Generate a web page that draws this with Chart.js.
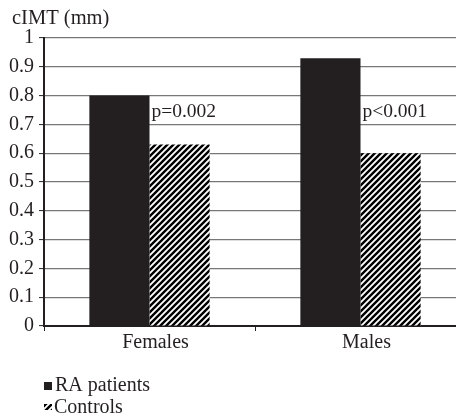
<!DOCTYPE html>
<html><head><meta charset="utf-8">
<script src="https://cdn.jsdelivr.net/npm/chart.js@4.4.0/dist/chart.umd.min.js"></script>
<style>
html,body{margin:0;padding:0;background:#fff;overflow:hidden;}
#wrap{position:relative;width:466px;height:419px;}
</style></head><body>
<div id="wrap"><canvas id="c"></canvas></div>
<script>
const categories = ["Females", "Males"];
const raPatients = [0.80, 0.93];
const controls = [0.63, 0.60];
const pLabels = ["p=0.002", "p<0.001"];
const yTitle = "cIMT (mm)";
const seriesNames = ["RA patients", "Controls"];

function makeHatch(){
  const s = 6;
  const c = document.createElement('canvas');
  c.width = s; c.height = s;
  const g = c.getContext('2d');
  g.fillStyle = '#fff'; g.fillRect(0,0,s,s);
  g.strokeStyle = '#000'; g.lineWidth = 2.4;
  g.beginPath();
  g.moveTo(-1, s+1); g.lineTo(s+1, -1);
  g.moveTo(-1, 1); g.lineTo(1, -1);
  g.moveTo(s-1, s+1); g.lineTo(s+1, s-1);
  g.stroke();
  return g.createPattern(c, 'repeat');
}
const hatch = makeHatch();
const FONT = "'Liberation Serif', 'DejaVu Serif', serif";

const overlay = {
  id: 'overlay',
  afterDraw(chart){
    const ctx = chart.ctx;
    const y = chart.scales.y;
    ctx.save();
    ctx.fillStyle = '#231f20';
    ctx.font = "20.5px " + FONT;
    ctx.textBaseline = 'alphabetic';
    ctx.textAlign = 'left';
    ctx.fillText(yTitle, 12, 24);
    // p labels
    const meta = chart.getDatasetMeta(1);
    ctx.font = "19.5px " + FONT;
    ctx.textBaseline = 'middle';
    pLabels.forEach((t,i)=>{
      const el = meta.data[i];
      const left = el.x - el.width/2;
      ctx.fillText(t, left + 2, y.getPixelForValue(0.745));
    });
    // legend
    ctx.font = "20px " + FONT;
    ctx.textBaseline = 'alphabetic';
    ctx.fillStyle = '#231f20';
    ctx.fillRect(44, 382, 8, 8);
    ctx.fillText(seriesNames[0], 55, 391);
    ctx.fillStyle = hatch;
    ctx.fillRect(44, 404, 8, 6);
    ctx.fillStyle = '#231f20';
    ctx.fillText(seriesNames[1], 54, 413);
    ctx.restore();
  }
};

new Chart(document.getElementById('c'), {
  type: 'bar',
  data: {
    labels: categories,
    datasets: [
      {label: seriesNames[0], data: raPatients, backgroundColor: '#231f20', borderWidth: 0},
      {label: seriesNames[1], data: controls, backgroundColor: hatch, borderWidth: 0}
    ]
  },
  options: {
    responsive: true,
    maintainAspectRatio: false,
    animation: false,
    devicePixelRatio: 1,
    layout: {padding: {left: 0, right: 0, top: 38, bottom: 57}},
    datasets: {bar: {categoryPercentage: 0.57, barPercentage: 1.0}},
    plugins: {legend: {display: false}, tooltip: {enabled: false}},
    scales: {
      x: {
        grid: {display: true, drawOnChartArea: false, drawTicks: true, tickLength: 5, tickColor: '#231f20', offset: true},
        border: {color: '#231f20', width: 2},
        ticks: {color: '#231f20', font: {family: FONT, size: 20}, padding: 0, labelOffset: 6},
        afterFit(s){ s.height = 36; }
      },
      y: {
        min: 0, max: 1,
        ticks: {stepSize: 0.1, color: '#231f20', font: {family: FONT, size: 20}, padding: 5,
          callback: v => (Math.round(v*10)/10).toString()},
        grid: {color: '#777', lineWidth: 1.2, borderDash: [1.5, 10.5], borderDashOffset: -12, drawTicks: true, tickLength: 5, tickColor: '#231f20', tickBorderDash: [], tickWidth: 1},
        border: {color: '#231f20', width: 2},
        afterFit(s){ s.width = 44; }
      }
    }
  },
  plugins: [overlay]
});
</script>
</body></html>
